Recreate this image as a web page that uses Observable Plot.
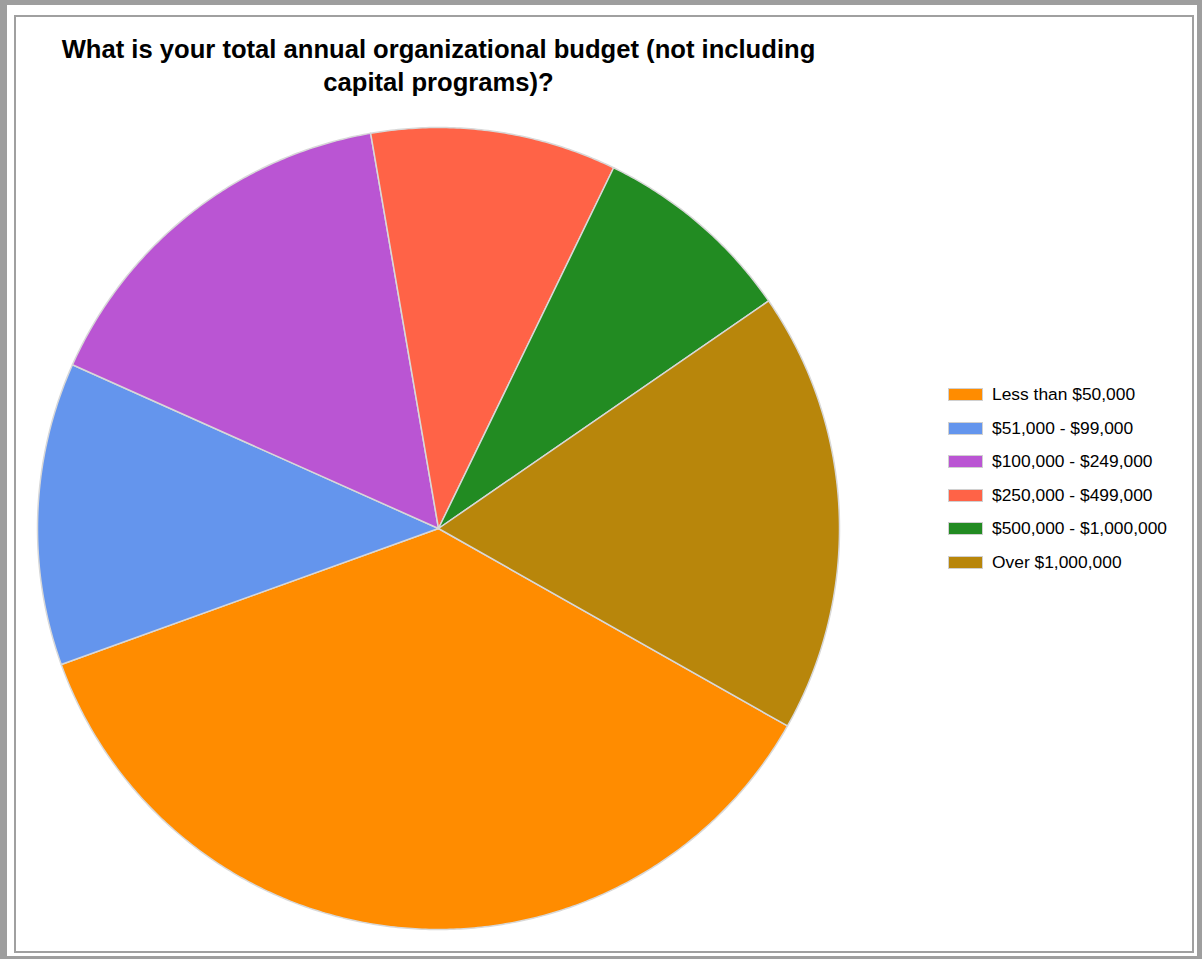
<!DOCTYPE html>
<html>
<head>
<meta charset="utf-8">
<script src="https://cdn.jsdelivr.net/npm/d3@7"></script>
<script src="https://cdn.jsdelivr.net/npm/@observablehq/plot@0.6"></script>
<style>
  html, body { margin: 0; padding: 0; background: #fff; }
  #frame { position: relative; width: 1202px; height: 959px; background: #9e9e9e; overflow: hidden; font-family: "Liberation Sans", Arial, sans-serif; }
  #inner { position: absolute; left: 7px; top: 5px; width: 1190px; height: 951px; background: #fff; }
  #line { position: absolute; left: 14px; top: 15px; width: 1176px; height: 934px; border: 2px solid #a0a0a0; }
  #title { position: absolute; left: 0; top: 33px; width: 877px; text-align: center; font-weight: bold; font-size: 25.6px; line-height: 33px; color: #000; }
  #chart { position: absolute; left: 0; top: 0; }
  #legend { position: absolute; left: 948px; top: 378px; }
  .row { height: 33.5px; display: flex; align-items: center; font-size: 17.4px; color: #000; }
  .sw { width: 33px; height: 11px; border: 1px solid #d0d0d0; margin-right: 9px; }
</style>
</head>
<body>
<div id="frame">
  <div id="inner"></div>
  <div id="line"></div>
  <div id="title">What is your total annual organizational budget (not including<br>capital programs)?</div>
  <div id="chart"></div>
  <div id="legend"></div>
</div>
<script>
const categories = ["Less than $50,000", "$51,000 - $99,000", "$100,000 - $249,000", "$250,000 - $499,000", "$500,000 - $1,000,000", "Over $1,000,000"];
const shares = [36.3, 12.2, 15.6, 9.9, 8.2, 17.8]; // percent of respondents
const colors = ["#FF8C00", "#6495ED", "#BA55D3", "#FF6347", "#228B22", "#B8860B"];
const startAngleDeg = 119.5; // clockwise from 12 o'clock

// Build slice outlines in unit-circle data space
const total = d3.sum(shares);
const pts = [];
let acc = 0;
categories.forEach((cat, i) => {
  const a0 = startAngleDeg + acc / total * 360;
  acc += shares[i];
  const a1 = startAngleDeg + acc / total * 360;
  pts.push({cat, u: 0, v: 0});
  const n = Math.max(2, Math.ceil((a1 - a0) / 0.5));
  for (let j = 0; j <= n; j++) {
    const a = (a0 + (a1 - a0) * j / n) * Math.PI / 180;
    pts.push({cat, u: Math.sin(a), v: Math.cos(a)});
  }
  pts.push({cat, u: 0, v: 0});
});

const cx = 438, cy = 528, r = 401;
const plot = Plot.plot({
  width: 1202,
  height: 959,
  margin: 0,
  style: {background: "transparent", overflow: "visible"},
  x: {domain: [-1, 1], range: [cx - r, cx + r], axis: null},
  y: {domain: [-1, 1], range: [cy + r, cy - r], axis: null},
  color: {domain: categories, range: colors},
  marks: [
    Plot.line(pts, {x: "u", y: "v", z: "cat", fill: "cat", stroke: "#d8d8d8", strokeWidth: 1.5, strokeLinejoin: "round"})
  ]
});
document.getElementById("chart").appendChild(plot);

const legend = document.getElementById("legend");
categories.forEach((c, i) => {
  const row = document.createElement("div");
  row.className = "row";
  const sw = document.createElement("div");
  sw.className = "sw";
  sw.style.background = colors[i];
  const t = document.createElement("span");
  t.textContent = c;
  row.appendChild(sw);
  row.appendChild(t);
  legend.appendChild(row);
});
</script>
</body>
</html>
